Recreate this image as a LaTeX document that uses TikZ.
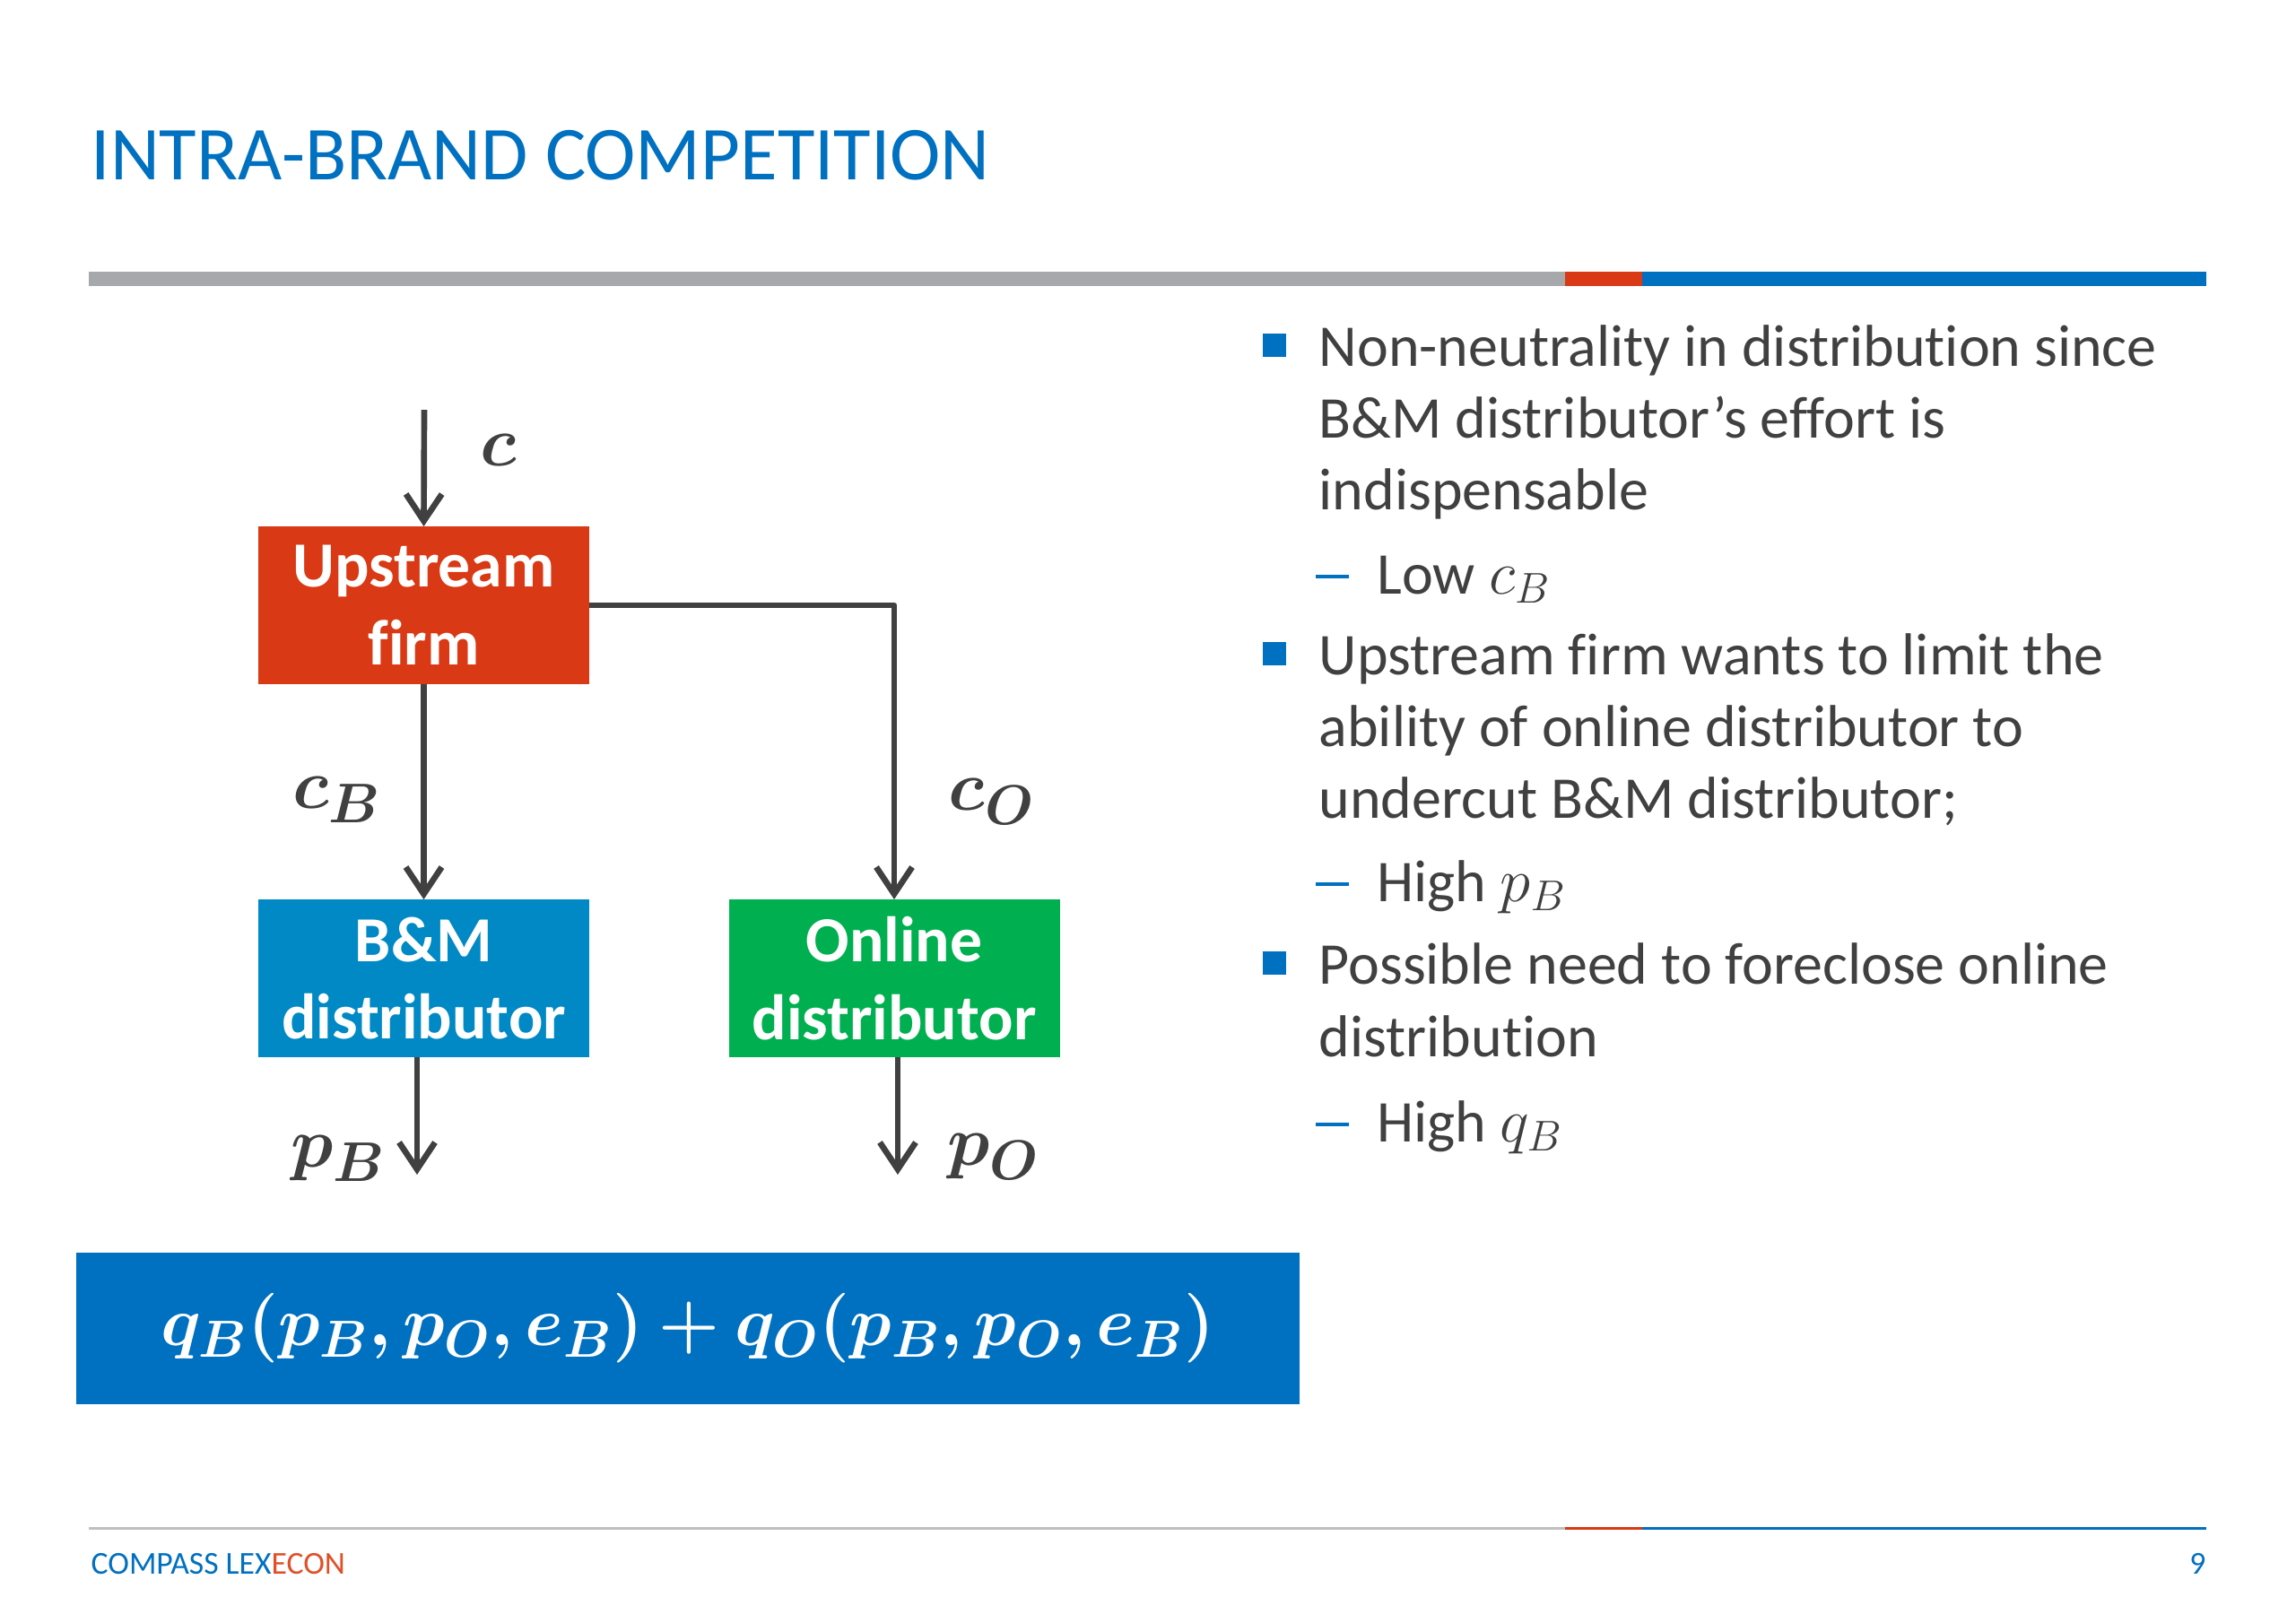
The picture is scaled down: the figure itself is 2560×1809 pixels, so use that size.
\documentclass[tikz,border=0pt]{standalone}
\usepackage{amsmath,bm}
\usepackage{fontspec}
\setmainfont[Ligatures=NoCommon]{Carlito}
\usetikzlibrary{arrows.meta,calc}
\definecolor{cblue}{RGB}{0,112,192}
\definecolor{cred}{RGB}{217,57,20}
\definecolor{cgraybar}{RGB}{166,168,171}
\definecolor{clinegray}{RGB}{191,191,191}
\definecolor{cbm}{RGB}{0,137,196}
\definecolor{cgreen}{RGB}{0,176,80}
\definecolor{ctext}{RGB}{64,64,64}
\definecolor{carrow}{RGB}{64,64,64}
\definecolor{cfootred}{RGB}{224,80,42}
\newcommand{\msub}[1]{\scalebox{0.95}{$\scriptstyle\bm{#1}$}}
\newcommand{\mlab}[2]{$\bm{#1}_{\msub{#2}}$}
\newcommand{\fsub}[1]{\scalebox{0.9}{$\scriptstyle\bm{#1}$}}
\begin{document}
\begin{tikzpicture}[x=0.3pt,y=-0.3pt,
  firmbox/.style={minimum width=110.7pt,minimum height=52.8pt,inner sep=0pt,outer sep=0pt,
    text=white,align=center,font=\bfseries\fontsize{21.5}{26}\selectfont},
  conn/.style={draw=carrow,line width=2pt,line join=round,
    -{Straight Barb[length=9pt,width=12pt]}},
  mlabel/.style={text=carrow,inner sep=0pt,font=\fontsize{24.88}{30}\selectfont},
  txt/.style={text=ctext,inner sep=0pt,anchor=base west,font=\fontsize{19.8}{24}\selectfont},
  dashmark/.style={fill=cblue,minimum width=11pt,minimum height=1.3pt,inner sep=0pt,outer sep=0pt,anchor=west},
  sqmark/.style={fill=cblue,minimum size=7.8pt,inner sep=0pt,outer sep=0pt}
]
\useasboundingbox (0,0) rectangle (2560,1809);

% title
\node[anchor=base west,inner sep=0pt,text=cblue,font=\fontsize{25.5}{30}\selectfont] (title) at (101,200) {INTRA-BRAND COMPETITION};

% top bar
\fill[cgraybar] (99,303) rectangle (1745,319);
\fill[cred] (1745,303) rectangle (1831,319);
\fill[cblue] (1831,303) rectangle (2460,319);

% boxes
\node[firmbox,fill=cred] (U) at (472.5,675) {Upstream\\firm};
\node[firmbox,fill=cbm] (BM) at (472.5,1091) {B\&M\\distributor};
\node[firmbox,fill=cgreen] (ON) at (997,1091) {Online\\distributor};

% connectors
\coordinate (cstart) at (473,457);
\coordinate (pBend) at (465,1310);
\coordinate (pOend) at (1001,1310);
\draw[conn] (cstart) -- (U.north);
\draw[conn] (U.south) -- (BM.north);
\draw[conn] (U.east) -| (ON.north);
\draw[conn] (BM.south -| pBend) -- (pBend);
\draw[conn] (ON.south -| pOend) -- (pOend);

% labels
\node[mlabel] (lc) at (556,502) {\scalebox{0.95}{$\bm{c}$}};
\node[mlabel] (lcB) at (376,892) {\scalebox{0.95}{\mlab{c}{B}}};
\node[mlabel] (lcO) at (1106,894) {\scalebox{0.95}{\mlab{c}{O}}};
\node[mlabel] (lpB) at (377,1292) {\scalebox{0.95}{\mlab{p}{B}}};
\node[mlabel] (lpO) at (1108,1290) {\scalebox{0.95}{\mlab{p}{O}}};

% formula box
\node[fill=cblue,minimum width=409.2pt,minimum height=50.7pt,inner sep=0pt,text=white,
  font=\fontsize{24.88}{30}\selectfont] (F) at (767,1481)
  {\scalebox{0.935}{$\bm{q}_{\fsub{B}}\bm{(p}_{\fsub{B}}\bm{,p}_{\fsub{O}}\bm{,e}_{\fsub{B}}\bm{)+q}_{\fsub{O}}\bm{(p}_{\fsub{B}}\bm{,p}_{\fsub{O}}\bm{,e}_{\fsub{B}}\bm{)}$}};

% bullets
\node[sqmark] (q1) at (1421,385) {};
\node[txt] (b1a) at (1470,408) {Non-neutrality in distribution since};
\node[txt] (b1b) at (1470,488) {B\&M distributor’s effort is};
\node[txt] (b1c) at (1470,568) {indispensable};
\node[dashmark] (d1) at (1467,643) {};
\node[txt] (s1) at (1535,662) {Low $c_B$};

\node[sqmark] (q2) at (1421,729) {};
\node[txt] (b2a) at (1470,752) {Upstream firm wants to limit the};
\node[txt] (b2b) at (1470,832) {ability of online distributor to};
\node[txt] (b2c) at (1470,912) {undercut B\&M distributor;};
\node[dashmark] (d2) at (1467,986) {};
\node[txt] (s2) at (1535,1005) {High $p_B$};

\node[sqmark] (q3) at (1421,1074) {};
\node[txt] (b3a) at (1470,1097) {Possible need to foreclose online};
\node[txt] (b3b) at (1470,1178) {distribution};
\node[dashmark] (d3) at (1467,1254) {};
\node[txt] (s3) at (1535,1273) {High $q_B$};

% footer
\fill[clinegray] (99,1703) rectangle (1745,1706);
\fill[cred] (1745,1703) rectangle (1831,1706);
\fill[cblue] (1831,1703) rectangle (2460,1706);
\node[anchor=base west,inner sep=0pt,font=\fontsize{10.7}{13}\selectfont] (foot) at (101,1755)
  {\textcolor{cblue}{COMPASS LEX}\textcolor{cfootred}{ECON}};
\node[anchor=base east,inner sep=0pt,text=cblue,font=\fontsize{10.7}{13}\selectfont] (page) at (2460,1755) {9};
\end{tikzpicture}
\end{document}
